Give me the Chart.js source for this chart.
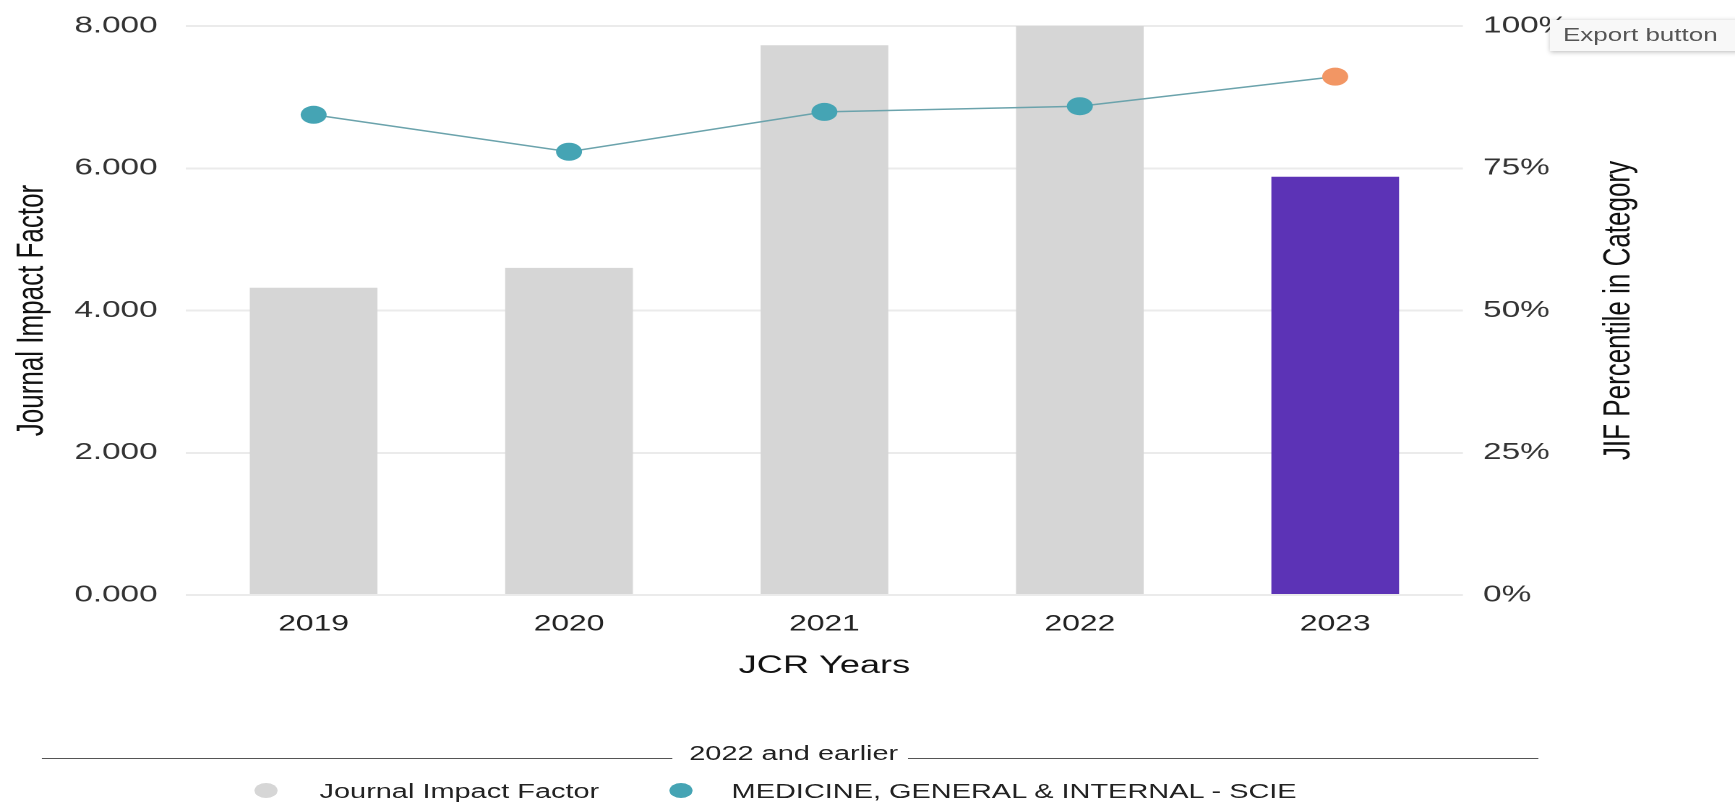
<!DOCTYPE html>
<html>
<head>
<meta charset="utf-8">
<script src="https://cdn.jsdelivr.net/npm/chart.js@4.4.1/dist/chart.umd.min.js"></script>
<style>
  html, body { margin: 0; padding: 0; background: #fff; overflow: hidden; width: 1735px; height: 803px; }
  #stage { position: absolute; left: 0; top: 0; width: 1200px; height: 803px;
           transform: scaleX(1.445833); transform-origin: 0 0;
           font-family: 'Liberation Sans', Arial, sans-serif; }
  #c { position: absolute; left: 0; top: 0; }
  .lg-line { position: absolute; height: 0; border-top: 1.5px solid #555; }
  .lg-title { position: absolute; width: 200px; text-align: center; font-size: 20px; line-height: 20px; color: #222; }
  .lg-dot { position: absolute; width: 16px; height: 15px; border-radius: 50%; }
  .lg-text { position: absolute; font-size: 20px; line-height: 20px; color: #222; white-space: nowrap; }
  #export { position: absolute; left: 1072px; top: 20px; width: 150px; height: 31px; line-height: 31px;
            padding-left: 9px; box-sizing: border-box; background: #f8f8f8; color: #555; font-size: 18px;
            box-shadow: 0 1px 4px rgba(0,0,0,0.28); white-space: nowrap; }
</style>
</head>
<body>
<div id="stage">
  <canvas id="c" width="1200" height="700"></canvas>
  <div id="legend"></div>
  <div id="export">Export button</div>
</div>
<script>
// ---- data ----
const years = ['2019', '2020', '2021', '2022', '2023'];
const jifValues = [4.32, 4.60, 7.73, 8.00, 5.88];
const percentileValues = [84.4, 77.9, 84.9, 85.9, 91.1];
const barColors = ['#d6d6d6', '#d6d6d6', '#d6d6d6', '#d6d6d6', '#5c33b6'];
const pointColors = ['#45a4b4', '#45a4b4', '#45a4b4', '#45a4b4', '#f29664'];
const leftTickLabels = ['0.000', '2.000', '4.000', '6.000', '8.000'];
const rightTickLabels = ['0%', '25%', '50%', '75%', '100%'];
const seriesNames = ['Journal Impact Factor', 'MEDICINE, GENERAL & INTERNAL - SCIE'];
const legendTitle = '2022 and earlier';
const xTitle = 'JCR Years';
const leftTitle = 'Journal Impact Factor';
const rightTitle = 'JIF Percentile in Category';

const FONT = "'Liberation Sans', Arial, sans-serif";

// right axis title drawn reading bottom-to-top
const rightTitlePlugin = {
  id: 'rightTitle',
  afterDraw(chart) {
    const s = chart.scales.y2;
    const ca = chart.chartArea;
    const ctx = chart.ctx;
    ctx.save();
    ctx.font = '26px ' + FONT;
    ctx.fillStyle = '#111';
    ctx.textAlign = 'center';
    ctx.textBaseline = 'middle';
    ctx.translate(s.right - 4 - 15.6, (ca.top + ca.bottom) / 2);
    ctx.rotate(-Math.PI / 2);
    ctx.fillText(rightTitle, 0, 0);
    ctx.restore();
  }
};

new Chart(document.getElementById('c'), {
  data: {
    labels: years,
    datasets: [
      {
        type: 'line',
        label: seriesNames[1],
        data: percentileValues,
        yAxisID: 'y2',
        borderColor: '#6ba3ac',
        borderWidth: 1.5,
        pointRadius: 9,
        pointHoverRadius: 9,
        pointBackgroundColor: pointColors,
        pointBorderColor: pointColors,
        pointBorderWidth: 0,
        tension: 0,
        clip: false,
        order: 0
      },
      {
        type: 'bar',
        label: seriesNames[0],
        data: jifValues,
        yAxisID: 'y',
        backgroundColor: barColors,
        barPercentage: 0.5,
        categoryPercentage: 1.0,
        order: 1
      }
    ]
  },
  options: {
    responsive: false,
    devicePixelRatio: 2,
    animation: false,
    layout: { padding: { left: 2.6, right: 60.4, top: 26, bottom: 15 } },
    plugins: { legend: { display: false }, tooltip: { enabled: false } },
    scales: {
      x: {
        grid: { display: false },
        border: { display: false },
        ticks: { color: '#222', font: { family: FONT, size: 22 }, padding: 8 },
        title: { display: true, text: xTitle, color: '#111', font: { family: FONT, size: 25 }, padding: { top: 4, bottom: 4 } },
        afterFit: s => { s.height = 90; }
      },
      y: {
        position: 'left',
        min: 0, max: 8,
        grid: { color: '#ebebeb', lineWidth: 2, drawTicks: false },
        border: { display: false },
        ticks: { stepSize: 2, color: '#333', font: { family: FONT, size: 23 }, padding: 19.6,
                 callback: (v, i) => leftTickLabels[i] },
        title: { display: true, text: leftTitle, color: '#111', font: { family: FONT, size: 26 }, padding: { top: 4, bottom: 4 } },
        afterFit: s => { s.width = 126; s.paddingTop = 14; s.paddingBottom = 14; }
      },
      y2: {
        position: 'right',
        min: 0, max: 100,
        grid: { display: false, drawTicks: false },
        border: { display: false },
        ticks: { stepSize: 25, color: '#333', font: { family: FONT, size: 23 }, padding: 14,
                 callback: (v, i) => rightTickLabels[i] },
        title: { display: false },
        afterFit: s => { s.width = 127.8; s.paddingTop = 14; s.paddingBottom = 14; }
      }
    }
  },
  plugins: [rightTitlePlugin]
});

// ---- legend ----
const lg = document.getElementById('legend');
lg.innerHTML =
  '<div class="lg-line" style="left:29px;width:436px;top:758px"></div>' +
  '<div class="lg-title" style="left:449px;top:743px">' + legendTitle + '</div>' +
  '<div class="lg-line" style="left:628px;width:436px;top:758px"></div>' +
  '<div class="lg-dot" style="left:176px;top:783px;background:' + barColors[0] + '"></div>' +
  '<div class="lg-text" style="left:221px;top:781px">' + seriesNames[0].replace(/&/g, '&amp;') + '</div>' +
  '<div class="lg-dot" style="left:463px;top:783px;background:' + pointColors[0] + '"></div>' +
  '<div class="lg-text" style="left:506px;top:781px">' + seriesNames[1].replace(/&/g, '&amp;') + '</div>';
</script>
</body>
</html>
